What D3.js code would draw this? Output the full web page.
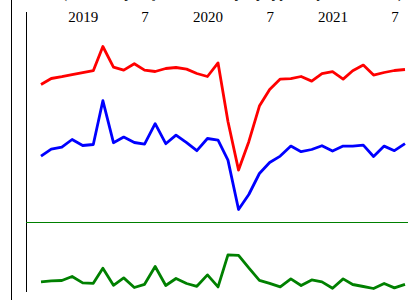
<!DOCTYPE html>
<html>
<head>
    <script src="https://d3js.org/d3.v7.min.js"></script>
    <style>
        body { margin: 0; background: #fff; }
        .series { fill: none; stroke-width: 2.8; stroke-linejoin: round; }
        .tick text { font-family: "Liberation Serif", "DejaVu Serif", serif; font-size: 15px; fill: #000; }
        .title { font-family: "Liberation Serif", serif; font-size: 15px; }
    </style>
</head>
<body>
    <svg width="408" height="300"></svg>

    <script>
        // monthly, Sep 2018 .. Aug 2021
        const months = d3.timeMonth.range(new Date(2018, 8, 1), new Date(2021, 8, 1));

        const redValues = [69, 72, 72.9, 73.9, 74.9, 75.9, 88, 77.7, 76.2, 79.4, 76.2, 75.5,
            77, 77.5, 76.7, 74.5, 73, 79.8, 50.5, 26.2, 40.4, 58.2, 66.5, 71.7,
            71.9, 73, 70.7, 74.4, 75.4, 71.7, 75.9, 78.7, 73.7, 75, 76, 76.5];

        const blueValues = [33.2, 36.7, 37.7, 41.5, 38.5, 39, 60.9, 39.9, 42.7, 40, 39.2, 49.4,
            39.4, 43.7, 39.9, 35.9, 42, 41.2, 31.2, 6.5, 14, 24.5, 30, 33.2,
            38.2, 35.4, 36.5, 38.4, 35.7, 38.2, 38.2, 38.7, 33, 38.2, 35.9, 39.4];

        const greenValues = [-29.7, -29.2, -29, -27, -30.2, -30.4, -22.9, -31.4, -27.7, -32.5, -30.9, -22,
            -31.5, -28, -30.5, -31.9, -26.2, -32.2, -16.2, -16.4, -22.7, -28.9, -30.4, -32.2,
            -28.2, -31.5, -28.7, -29.7, -32.9, -28.2, -31, -32, -33, -30.5, -32.7, -30.9];

        const tickMonths = [new Date(2019, 0, 1), new Date(2019, 6, 1), new Date(2020, 0, 1),
            new Date(2020, 6, 1), new Date(2021, 0, 1), new Date(2021, 6, 1)];

        const svg = d3.select("svg");

        const x = d3.scaleTime()
            .domain([months[0], months[months.length - 1]])
            .range([41, 405]);

        const y = d3.scaleLinear()
            .domain([0, 100])
            .range([222.5, 22.5]);

        // title, mostly outside the frame
        svg.append("text")
            .attr("class", "title")
            .attr("x", 62)
            .attr("y", -2)
            .text("(Seasonally, adjusted monthly, by type, in percent, 2021)");

        // frame lines
        svg.append("line")
            .attr("x1", 11.5).attr("x2", 11.5)
            .attr("y1", 0).attr("y2", 300)
            .attr("stroke", "#000");
        svg.append("line")
            .attr("x1", 26.5).attr("x2", 26.5)
            .attr("y1", 12).attr("y2", 292)
            .attr("stroke", "#000");

        // zero line
        svg.append("line")
            .attr("x1", 26).attr("x2", 408)
            .attr("y1", y(0)).attr("y2", y(0))
            .attr("stroke", "#008000")
            .attr("stroke-width", 1);

        // top axis
        const axis = d3.axisTop(x)
            .tickValues(tickMonths)
            .tickSize(0)
            .tickPadding(0)
            .tickFormat(d => d.getMonth() === 0 ? d3.timeFormat("%Y")(d) : String(d.getMonth() + 1));

        svg.append("g")
            .attr("transform", "translate(0,22)")
            .call(axis)
            .call(g => g.select(".domain").remove());

        const line = d3.line()
            .x((d, i) => x(months[i]))
            .y(d => y(d));

        [[redValues, "#ff0000"], [blueValues, "#0000ff"], [greenValues, "#008000"]].forEach(([vals, color]) => {
            svg.append("path")
                .datum(vals)
                .attr("class", "series")
                .attr("stroke", color)
                .attr("d", line);
        });
    </script>
</body>
</html>
